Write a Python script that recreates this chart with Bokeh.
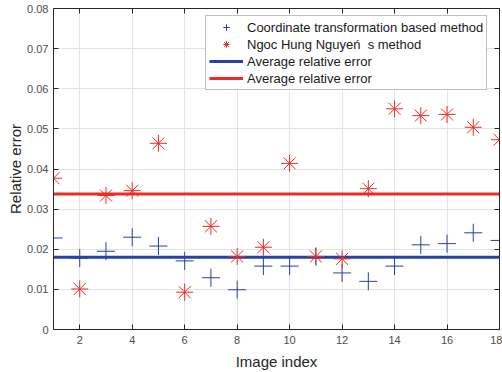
from bokeh.plotting import figure
from bokeh.models import ColumnDataSource, Range1d, FixedTicker, LinearAxis, Legend, LegendItem
from bokeh.embed import file_html
from bokeh.resources import INLINE

image_index = list(range(1, 19))
coord_method = [0.0228, 0.0178, 0.0195, 0.0230, 0.0208, 0.0171, 0.0129, 0.0099, 0.0158,
                0.0158, 0.0182, 0.0141, 0.0120, 0.0158, 0.0211, 0.0214, 0.0241, 0.0222]
nguyen_method = [0.0377, 0.0101, 0.0334, 0.0346, 0.0464, 0.0093, 0.0257, 0.0182, 0.0205,
                 0.0414, 0.0182, 0.0176, 0.0351, 0.0550, 0.0533, 0.0536, 0.0504, 0.0473]
avg_coord = 0.0180
avg_nguyen = 0.0338
y_ticks = [0, 0.01, 0.02, 0.03, 0.04, 0.05, 0.06, 0.07, 0.08]
y_tick_labels = ["0", "0.01", "0.02", "0.03", "0.04", "0.05", "0.06", "0.07", "0.08"]
x_ticks = [2, 4, 6, 8, 10, 12, 14, 16, 18]
legend_labels = ["Coordinate transformation based method",
                 "Ngoc Hung Nguyeń  s method",
                 "Average relative error",
                 "Average relative error"]

BLUE = "#2741a6"
RED = "#ee2b24"
AX = "#262626"
TICK_TXT = "#4d4d4d"
FONT = "Liberation Sans"

p = figure(width=502, height=372, output_backend="svg", toolbar_location=None,
           x_range=Range1d(image_index[0], image_index[-1]), y_range=Range1d(y_ticks[0], y_ticks[-1]),
           min_border_left=53, min_border_right=3, min_border_top=8, min_border_bottom=43)
p.outline_line_color = None
p.background_fill_color = "white"
p.border_fill_color = "white"

src = ColumnDataSource(dict(x=image_index, c=coord_method, n=nguyen_method))
xs_line = [image_index[0], image_index[-1]]
l1 = p.line(xs_line, [avg_coord, avg_coord], line_color=BLUE, line_width=3)
l2 = p.line(xs_line, [avg_nguyen, avg_nguyen], line_color=RED, line_width=3)
r1 = p.scatter("x", "c", source=src, marker="cross", size=18, line_color=BLUE, line_width=1)
r2 = p.scatter("x", "n", source=src, marker="asterisk", size=17, line_color=RED, line_width=1)

def style_axis(ax, labels=True):
    ax.axis_line_color = AX
    ax.axis_line_width = 1
    ax.major_tick_line_color = AX
    ax.major_tick_in = 5
    ax.major_tick_out = 0
    ax.minor_tick_line_color = None
    ax.major_label_text_font = FONT
    ax.major_label_text_font_size = "11px"
    ax.major_label_text_color = TICK_TXT
    ax.axis_label_text_font = FONT
    ax.axis_label_text_font_style = "normal"
    ax.axis_label_text_font_size = "15px"
    ax.axis_label_text_color = AX
    if not labels:
        ax.major_label_text_font_size = "0px"
        ax.major_label_text_color = None

p.xaxis.ticker = FixedTicker(ticks=x_ticks)
p.yaxis.ticker = FixedTicker(ticks=y_ticks)
p.yaxis.major_label_overrides = {t: s for t, s in zip(y_ticks, y_tick_labels)}
p.xaxis.axis_label = "Image index"
p.yaxis.axis_label = "Relative error"
style_axis(p.xaxis[0])
style_axis(p.yaxis[0])
p.xaxis.major_label_standoff = 6
p.yaxis.major_label_standoff = 5
p.xaxis.axis_label_standoff = 6
p.yaxis.axis_label_standoff = 0

top = LinearAxis(ticker=FixedTicker(ticks=x_ticks))
right = LinearAxis(ticker=FixedTicker(ticks=y_ticks))
style_axis(top, labels=False)
style_axis(right, labels=False)
p.add_layout(top, "above")
p.add_layout(right, "right")

p.xgrid.ticker = FixedTicker(ticks=x_ticks)
p.ygrid.ticker = FixedTicker(ticks=y_ticks)
p.grid.grid_line_color = "#e3e3e3"
p.grid.grid_line_width = 1

legend = Legend(items=[LegendItem(label=legend_labels[0], renderers=[r1]),
                       LegendItem(label=legend_labels[1], renderers=[r2]),
                       LegendItem(label=legend_labels[2], renderers=[l1]),
                       LegendItem(label=legend_labels[3], renderers=[l2])],
                location=(152, 239))
legend.label_text_font = FONT
legend.label_text_font_size = "13px"
legend.label_text_color = "#1a1a1a"
legend.glyph_width = 34
legend.glyph_height = 16
legend.label_height = 16
legend.label_standoff = 4
legend.spacing = 1
legend.padding = 3
legend.margin = 0
legend.border_line_color = "#808080"
legend.border_line_width = 1
legend.background_fill_alpha = 1
p.add_layout(legend, "center")

open("out.html", "w").write(file_html(p, INLINE))
